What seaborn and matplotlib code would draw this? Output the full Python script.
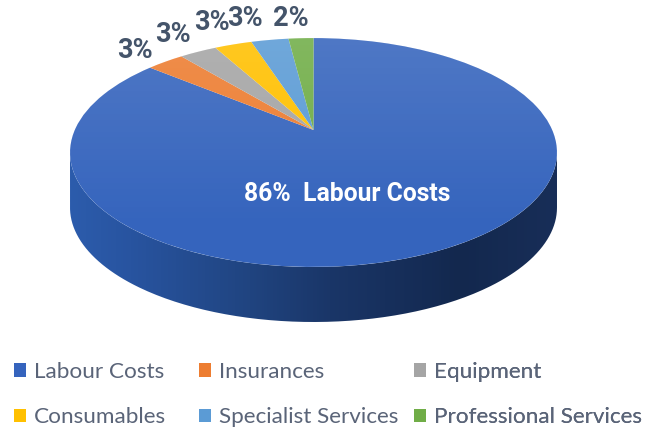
"""
plot.py
-------
Cost breakdown drawn as a tilted 3D style pie with a legend underneath.
"""

import numpy as np
import matplotlib
matplotlib.use("Agg")
import matplotlib.pyplot as plt
import seaborn as sns
from matplotlib.path import Path
from matplotlib.transforms import Transform

categories = ["Labour Costs", "Insurances", "Equipment",
              "Consumables", "Specialist Services", "Professional Services"]
shares = [86, 3, 3, 3, 3, 2]
colors = ["#3564bd", "#ed7d31", "#a5a5a5", "#ffc000", "#5b9bd5", "#70ad47"]

# Pie geometry in image pixels
APEX_X, APEX_Y = 313.5, 130.0
RADIUS_X, RADIUS_Y, TILT = 238.7, 110.0, 0.1966
ELL_X, ELL_Y, ELL_W, ELL_H = 313.5, 152.5, 243.5, 114.5
DEPTH = 55.0


class Perspective(Transform):
    """Maps the unit circle of the pie to the tilted ellipse (y axis down)."""
    input_dims = 2
    output_dims = 2
    is_separable = False
    has_inverse = False

    def transform_non_affine(self, values):
        x, y = np.asarray(values).T
        w = 1 + TILT * y
        return np.column_stack([APEX_X + RADIUS_X * x / w,
                                APEX_Y - RADIUS_Y * y / w])


def gradient(ax, rgba, extent, clip, zorder):
    """Draw an image clipped to a path, the pie's shading is done this way."""
    im = ax.imshow(rgba, extent=extent, aspect="auto", zorder=zorder,
                   interpolation="bilinear")
    im.set_clip_path(clip, transform=ax.transData)


sns.set_theme(style="white")

fig = plt.figure(figsize=(6.56, 4.32), dpi=100)
ax = fig.add_axes([0, 0, 1, 1])

wedges, _ = ax.pie(shares, colors=colors, startangle=90, counterclock=False,
                   wedgeprops={"linewidth": 0, "zorder": 2})
persp = Perspective()
for w in wedges:
    w.set_transform(persp + ax.transData)

# ---- Side wall ----
t = np.linspace(0, np.pi, 200)
front_x = ELL_X + ELL_W * np.cos(t)
front_y = ELL_Y + ELL_H * np.sin(t)
wall = Path(np.column_stack([np.r_[front_x, front_x[::-1]],
                             np.r_[front_y, front_y[::-1] + DEPTH]]))
stops_x = [70, 130, 250, 330, 460, 557]
stops_rgb = np.array([[44, 92, 172], [40, 84, 160], [32, 68, 128],
                      [26, 54, 104], [19, 40, 78], [24, 46, 88]]) / 255
xs = np.linspace(70, 557, 256)
wall_img = np.ones((1, 256, 4))
for c in range(3):
    wall_img[0, :, c] = np.interp(xs, stops_x, stops_rgb[:, c])
gradient(ax, wall_img, (70, 557, 330, 150), wall, 0)

# ---- Sheen on the top face ----
t = np.linspace(0, 2 * np.pi, 300)
face = Path(np.column_stack([ELL_X + ELL_W * np.cos(t), ELL_Y + ELL_H * np.sin(t)]))
sheen = np.ones((256, 1, 4))
sheen[:, 0, 3] = np.linspace(0.13, 0, 256)
gradient(ax, sheen, (70, 557, 230, 38), face, 3)

# ---- Labels ----
label_pos = [(135, 51), (173, 35), (212, 23), (245, 19), (291, 19)]
for value, (x, y) in zip(shares[1:], label_pos):
    ax.text(x, y, f"{value}%", color="#44546a", fontsize=19.5, fontweight="bold",
            family="Roboto", ha="center", va="center", zorder=4)
ax.text(347.5, 194, f"{shares[0]}%  {categories[0]}", color="white", fontsize=17.8,
        fontweight="bold", family="Roboto", ha="center", va="center", zorder=4)

ax.set_xlim(0, 656)
ax.set_ylim(432, 0)
ax.set_aspect("auto")
ax.axis("off")

# ---- Legend, one block per column so the gaps can differ ----
column_left = [14, 199, 414]
for col, left in enumerate(column_left):
    idx = [col, col + 3]
    leg = ax.legend([wedges[i] for i in idx], [categories[i] for i in idx],
                    loc="upper left", bbox_to_anchor=(left / 656, 1 - 362 / 432),
                    frameon=False, borderpad=0, borderaxespad=0,
                    handlelength=0.53, handleheight=0.53, handletextpad=0.36,
                    labelspacing=1.13, labelcolor="#5a6478",
                    prop={"family": "Lato", "size": 16.2})
    ax.add_artist(leg)

fig.savefig("out.png", dpi=100)
plt.close(fig)
